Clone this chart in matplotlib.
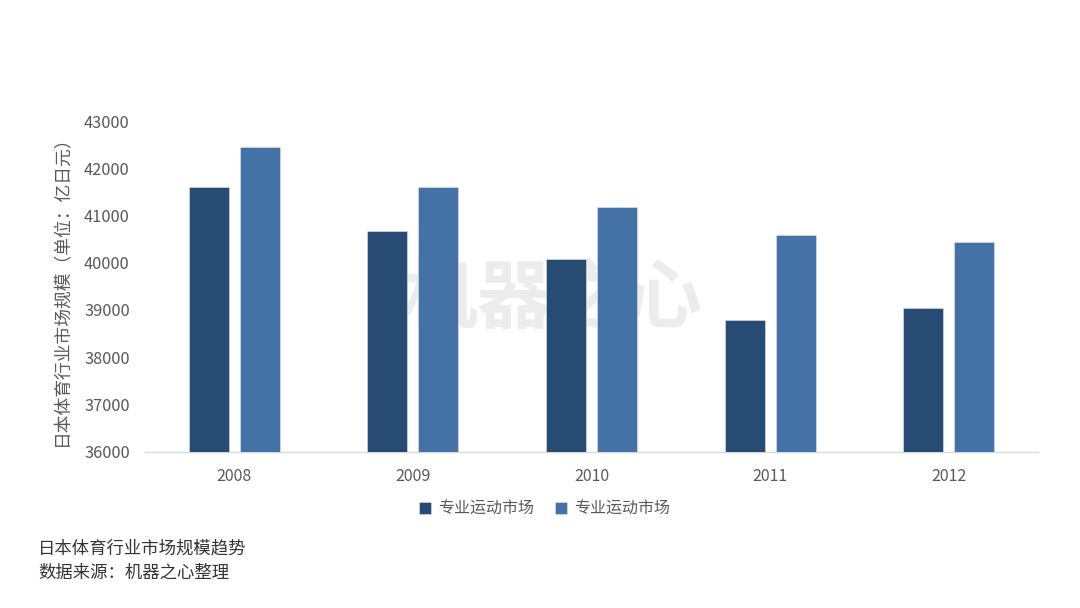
import numpy as np
import matplotlib
matplotlib.use("Agg")
import matplotlib.pyplot as plt

plt.rcParams['font.family'] = ['Noto Sans CJK SC', 'DejaVu Sans']

years = ['2008', '2009', '2010', '2011', '2012']
series_a = [41600, 40680, 40080, 38790, 39040]
series_b = [42440, 41600, 41180, 40590, 40440]
legend_labels = ['专业运动市场', '专业运动市场']

dark = '#284B74'
light = '#4472A7'
text_grey = '#595959'

fig = plt.figure(figsize=(10.8, 6.08), dpi=100)
ax = fig.add_axes([145 / 1080, 1 - 451.5 / 608, (1038 - 145) / 1080, (451.5 - 121) / 608])

x = np.arange(len(years))
w = 0.224
off = 0.143
ax.bar(x - off, series_a, width=w, color=dark, edgecolor='#dfe6ee', linewidth=0.4,
       label=legend_labels[0], zorder=3)
ax.bar(x + off, series_b, width=w, color=light, edgecolor='#dfe6ee', linewidth=0.4,
       label=legend_labels[1], zorder=3)

ax.set_xlim(-0.5, len(years) - 0.5)
ax.set_ylim(36000, 43000)
ax.set_yticks(np.arange(36000, 43001, 1000))
ax.set_xticks(x)
ax.set_xticklabels(years)
ax.tick_params(axis='y', length=0, colors=text_grey, labelsize=11.8, pad=11)
ax.tick_params(axis='x', length=0, colors=text_grey, labelsize=11.5, pad=12)

for s in ['top', 'right', 'left']:
    ax.spines[s].set_visible(False)
ax.spines['bottom'].set_color('#d9d9d9')
ax.spines['bottom'].set_linewidth(1)

ax.set_ylabel('日本体育行业市场规模（单位：亿日元）', color=text_grey, fontsize=12.8)
ax.yaxis.set_label_coords(-0.083, 0.5)

# watermark, behind the bars
ax.text(553 / 1080, 1 - 300 / 608, '机器之心', fontsize=54, fontweight='bold',
        color='#ececec', ha='center', va='center', zorder=1,
        transform=fig.transFigure)

leg = fig.legend(loc='center', bbox_to_anchor=(545 / 1080, 1 - 509 / 608), ncol=2,
                 frameon=False, fontsize=11.5, handlelength=0.7, handleheight=0.7,
                 columnspacing=1.3, handletextpad=0.5)
for t in leg.get_texts():
    t.set_color(text_grey)

fig.text(38 / 1080, 1 - 548 / 608, '日本体育行业市场规模趋势', fontsize=12.5,
         color='#333333', va='center', ha='left')
fig.text(38 / 1080, 1 - 573 / 608, '数据来源：机器之心整理', fontsize=12.5,
         color='#333333', va='center', ha='left')

fig.savefig('out.png', dpi=100, facecolor='white')
